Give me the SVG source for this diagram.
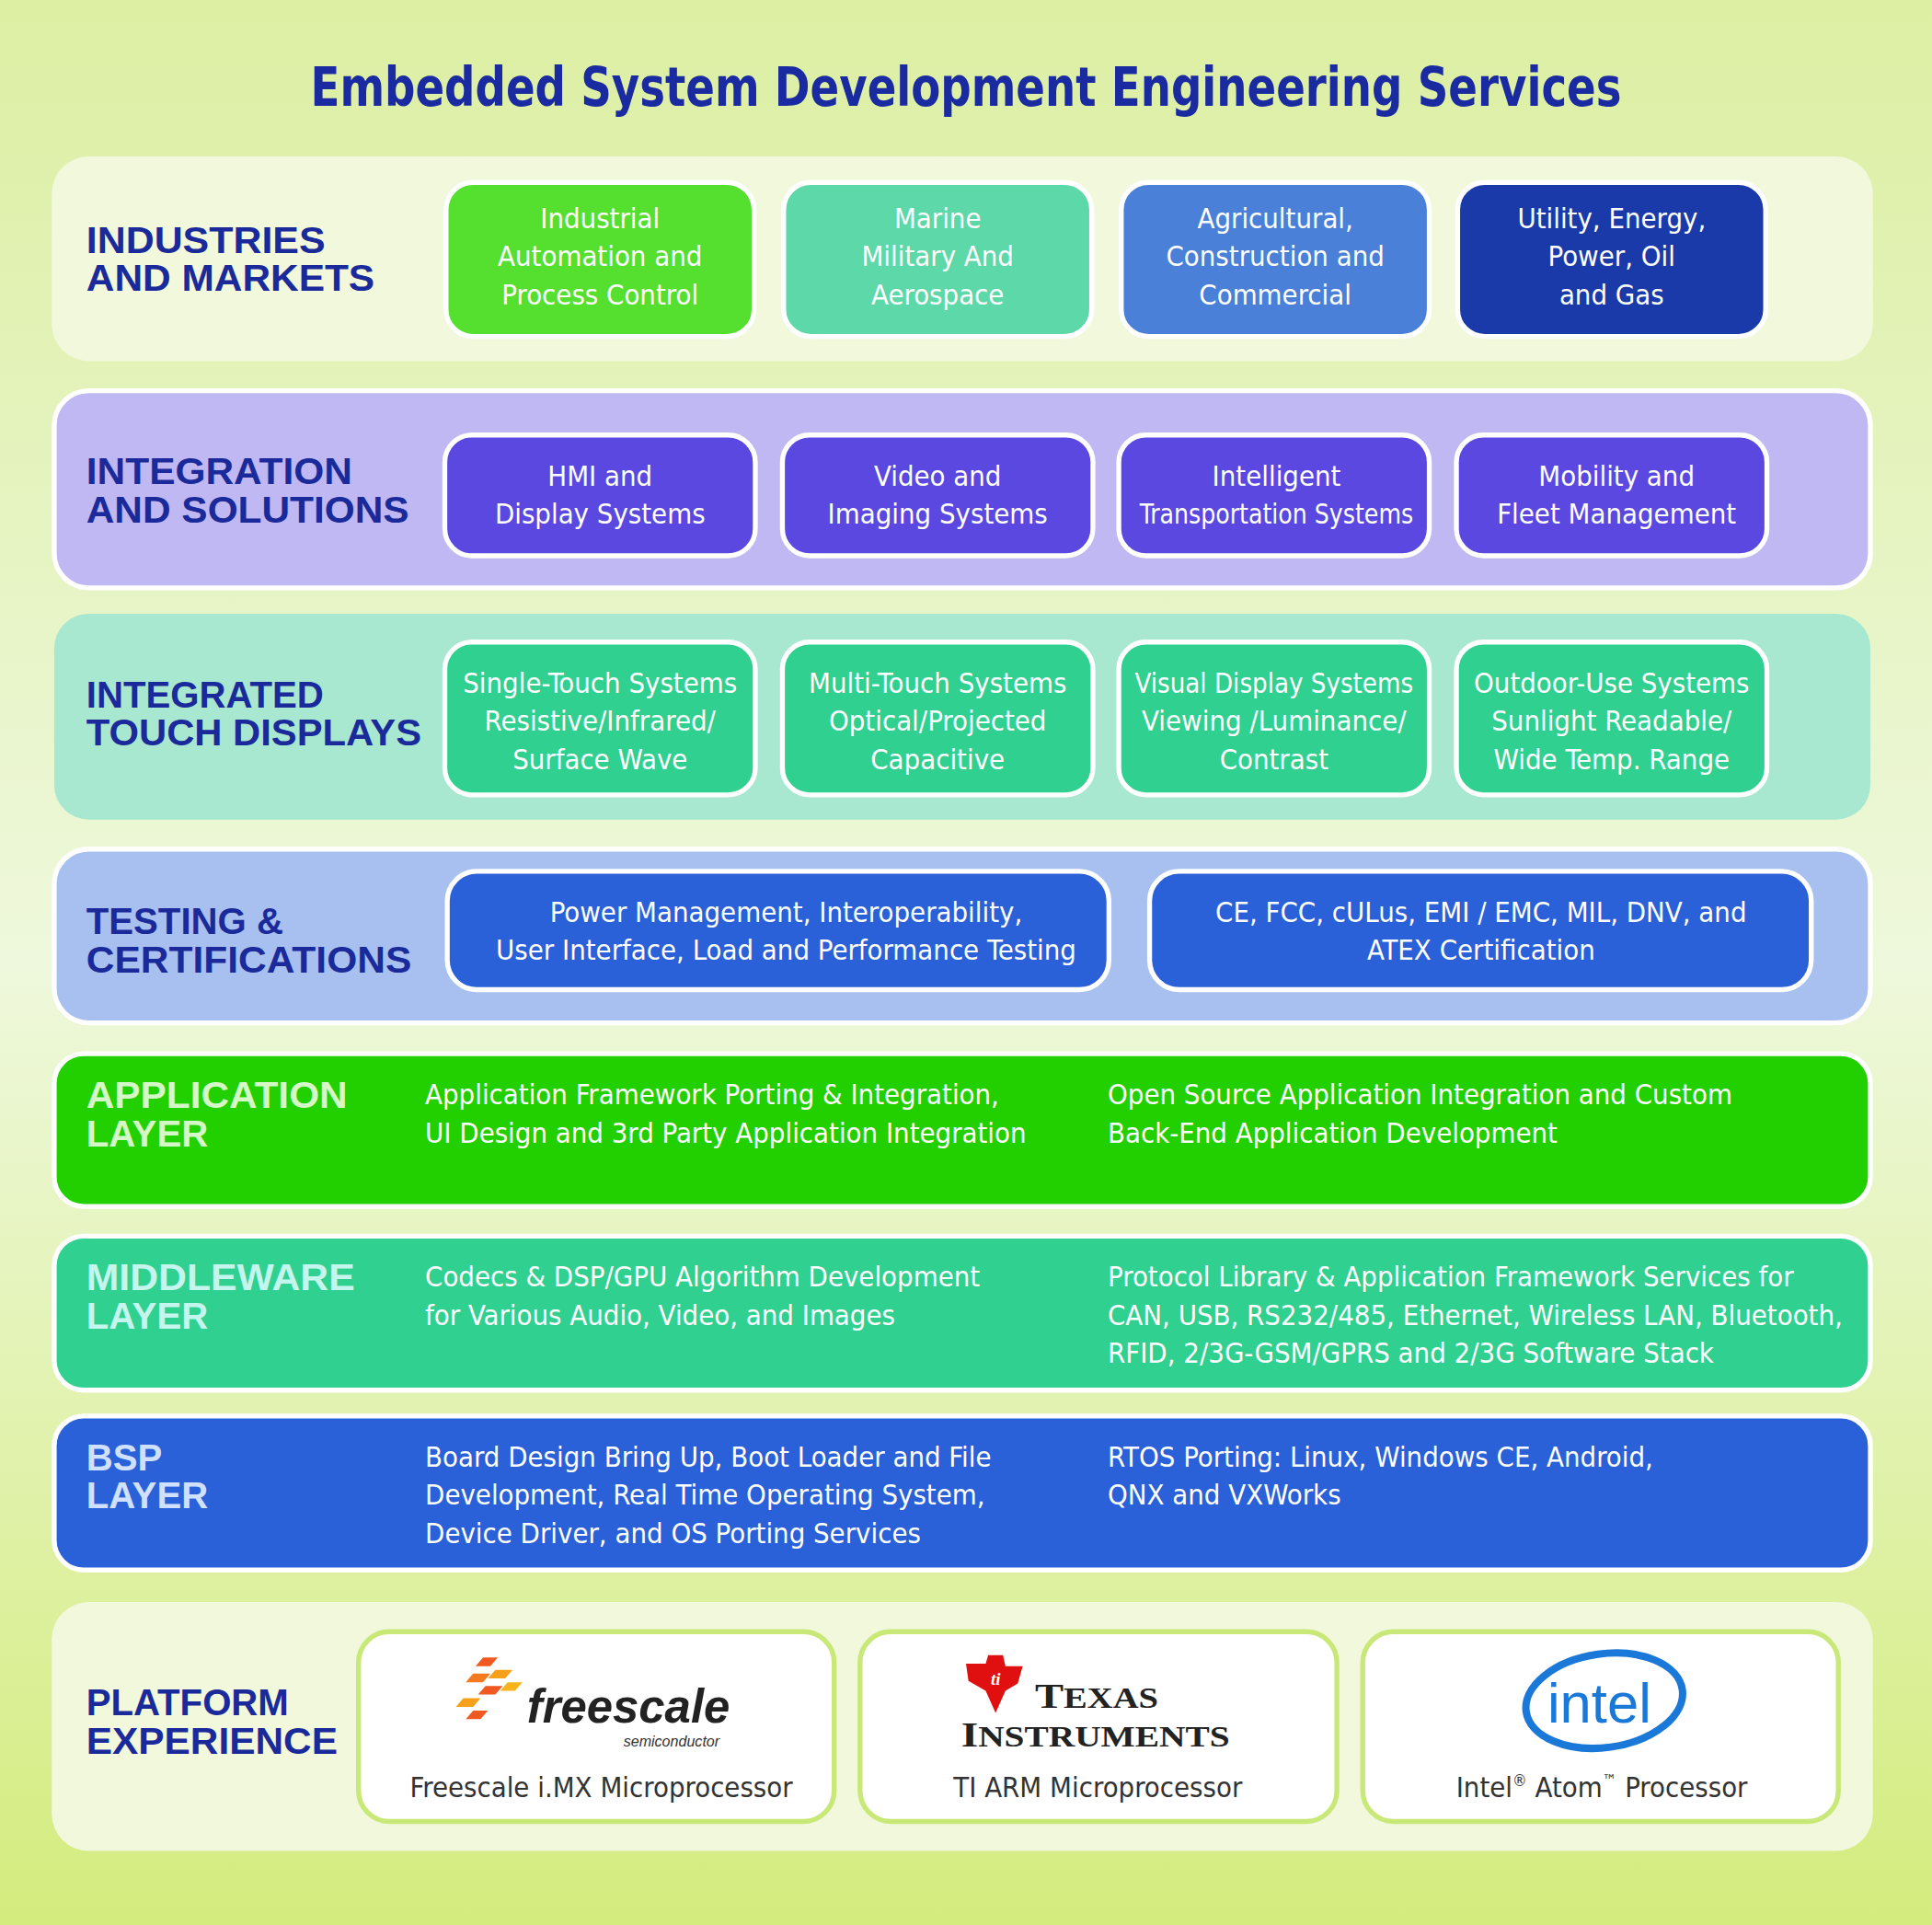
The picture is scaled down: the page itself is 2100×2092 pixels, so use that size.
<svg xmlns="http://www.w3.org/2000/svg" width="2100" height="2092" viewBox="0 0 2100 2092">
<defs>
<linearGradient id="bg" x1="0" y1="0" x2="0" y2="1">
<stop offset="0" stop-color="#dcefa2"/><stop offset="0.5" stop-color="#eef8dc"/><stop offset="1" stop-color="#d4ec7e"/>
</linearGradient>
<style>
.t{font-family:"DejaVu Sans Condensed","DejaVu Sans",sans-serif;fill:#fff;font-size:23px;text-anchor:middle}
.l{font-family:"DejaVu Sans Condensed","DejaVu Sans",sans-serif;fill:#fff;font-size:23px}
.h{font-family:"Liberation Sans",Arial,sans-serif;font-weight:bold;font-size:30px;fill:#1a2a9a}
.p{stroke:#fff;stroke-width:4}
.b{stroke:#fff;stroke-width:4}
.c{fill:#fff;stroke:#c8e878;stroke-width:4}
.cap{font-family:"DejaVu Sans Condensed","DejaVu Sans",sans-serif;fill:#333;font-size:23px;text-anchor:middle}
</style>
</defs>
<rect width="2100" height="2092" fill="url(#bg)"/>
<g transform="scale(1.33929)">
<text x="784" y="86" text-anchor="middle" font-family="DejaVu Sans Condensed,DejaVu Sans,sans-serif" font-weight="bold" font-size="44" fill="#1a2aa0" textLength="1064" lengthAdjust="spacingAndGlyphs">Embedded System Development Engineering Services</text>

<g id="industries">
<rect x="42" y="127" width="1478" height="166" rx="30" fill="#f1f8dc"/>
<text class="h"><tspan x="70" y="205" textLength="194" lengthAdjust="spacingAndGlyphs">INDUSTRIES</tspan><tspan x="70" y="236" textLength="234" lengthAdjust="spacingAndGlyphs">AND MARKETS</tspan></text>
<rect class="b" x="362" y="148" width="250" height="125" rx="22" fill="#55e030"/>
<text class="t"><tspan x="487" y="185">Industrial</tspan><tspan x="487" y="216">Automation and</tspan><tspan x="487" y="247">Process Control</tspan></text>
<rect class="b" x="636" y="148" width="250" height="125" rx="22" fill="#5dd8a8"/>
<text class="t"><tspan x="761" y="185">Marine</tspan><tspan x="761" y="216">Military And</tspan><tspan x="761" y="247">Aerospace</tspan></text>
<rect class="b" x="910" y="148" width="250" height="125" rx="22" fill="#4a80d8"/>
<text class="t"><tspan x="1035" y="185">Agricultural,</tspan><tspan x="1035" y="216">Construction and</tspan><tspan x="1035" y="247">Commercial</tspan></text>
<rect class="b" x="1183" y="148" width="250" height="125" rx="22" fill="#1a3aaa"/>
<text class="t"><tspan x="1308" y="185">Utility, Energy,</tspan><tspan x="1308" y="216">Power, Oil</tspan><tspan x="1308" y="247">and Gas</tspan></text>
</g>

<g id="integration">
<rect class="p" x="44" y="317" width="1474" height="160" rx="28" fill="#c0b8f2"/>
<text class="h"><tspan x="70" y="393" textLength="216" lengthAdjust="spacingAndGlyphs">INTEGRATION</tspan><tspan x="70" y="424" textLength="262" lengthAdjust="spacingAndGlyphs">AND SOLUTIONS</tspan></text>
<rect class="b" x="361" y="353" width="252" height="98" rx="22" fill="#5a48e0"/>
<text class="t"><tspan x="487" y="394">HMI and</tspan><tspan x="487" y="425">Display Systems</tspan></text>
<rect class="b" x="635" y="353" width="252" height="98" rx="22" fill="#5a48e0"/>
<text class="t"><tspan x="761" y="394">Video and</tspan><tspan x="761" y="425">Imaging Systems</tspan></text>
<rect class="b" x="908" y="353" width="252" height="98" rx="22" fill="#5a48e0"/>
<text class="t"><tspan x="1036" y="394">Intelligent</tspan><tspan x="1036" y="425" textLength="222" lengthAdjust="spacingAndGlyphs">Transportation Systems</tspan></text>
<rect class="b" x="1182" y="353" width="252" height="98" rx="22" fill="#5a48e0"/>
<text class="t"><tspan x="1312" y="394">Mobility and</tspan><tspan x="1312" y="425">Fleet Management</tspan></text>
</g>

<g id="touch">
<rect x="44" y="498" width="1474" height="167" rx="28" fill="#a8e8d0"/>
<text class="h"><tspan x="70" y="574">INTEGRATED</tspan><tspan x="70" y="605" textLength="272" lengthAdjust="spacingAndGlyphs">TOUCH DISPLAYS</tspan></text>
<rect class="b" x="361" y="521" width="252" height="124" rx="22" fill="#30d090"/>
<text class="t"><tspan x="487" y="562">Single-Touch Systems</tspan><tspan x="487" y="593">Resistive/Infrared/</tspan><tspan x="487" y="624">Surface Wave</tspan></text>
<rect class="b" x="635" y="521" width="252" height="124" rx="22" fill="#30d090"/>
<text class="t"><tspan x="761" y="562">Multi-Touch Systems</tspan><tspan x="761" y="593">Optical/Projected</tspan><tspan x="761" y="624">Capacitive</tspan></text>
<rect class="b" x="908" y="521" width="252" height="124" rx="22" fill="#30d090"/>
<text class="t"><tspan x="1034" y="562" textLength="226" lengthAdjust="spacingAndGlyphs">Visual Display Systems</tspan><tspan x="1034" y="593">Viewing /Luminance/</tspan><tspan x="1034" y="624">Contrast</tspan></text>
<rect class="b" x="1182" y="521" width="252" height="124" rx="22" fill="#30d090"/>
<text class="t"><tspan x="1308" y="562">Outdoor-Use Systems</tspan><tspan x="1308" y="593">Sunlight Readable/</tspan><tspan x="1308" y="624">Wide Temp. Range</tspan></text>
</g>

<g id="testing">
<rect class="p" x="44" y="689" width="1474" height="141" rx="28" fill="#a8c0f0"/>
<text class="h"><tspan x="70" y="758">TESTING &amp;</tspan><tspan x="70" y="789" textLength="264" lengthAdjust="spacingAndGlyphs">CERTIFICATIONS</tspan></text>
<rect class="b" x="363" y="707" width="537" height="96" rx="24" fill="#2a60d8"/>
<text class="t"><tspan x="638" y="748">Power Management, Interoperability,</tspan><tspan x="638" y="779">User Interface, Load and Performance Testing</tspan></text>
<rect class="b" x="933" y="707" width="537" height="96" rx="24" fill="#2a60d8"/>
<text class="t"><tspan x="1202" y="748">CE, FCC, cULus, EMI / EMC, MIL, DNV, and</tspan><tspan x="1202" y="779">ATEX Certification</tspan></text>
</g>

<g id="application">
<rect class="p" x="44" y="855" width="1474" height="124" rx="24" fill="#22d000"/>
<text class="h" style="fill:#d4f8c8"><tspan x="70" y="899" textLength="212" lengthAdjust="spacingAndGlyphs">APPLICATION</tspan><tspan x="70" y="930">LAYER</tspan></text>
<text class="l"><tspan x="345" y="896">Application Framework Porting &amp; Integration,</tspan><tspan x="345" y="927">UI Design and 3rd Party Application Integration</tspan></text>
<text class="l"><tspan x="899" y="896">Open Source Application Integration and Custom</tspan><tspan x="899" y="927">Back-End Application Development</tspan></text>
</g>

<g id="middleware">
<rect class="p" x="44" y="1003" width="1474" height="125" rx="24" fill="#30d090"/>
<text class="h" style="fill:#c4f6ee"><tspan x="70" y="1047" textLength="218" lengthAdjust="spacingAndGlyphs">MIDDLEWARE</tspan><tspan x="70" y="1078">LAYER</tspan></text>
<text class="l"><tspan x="345" y="1044">Codecs &amp; DSP/GPU Algorithm Development</tspan><tspan x="345" y="1075">for Various Audio, Video, and Images</tspan></text>
<text class="l"><tspan x="899" y="1044">Protocol Library &amp; Application Framework Services for</tspan><tspan x="899" y="1075">CAN, USB, RS232/485, Ethernet, Wireless LAN, Bluetooth,</tspan><tspan x="899" y="1106">RFID, 2/3G-GSM/GPRS and 2/3G Software Stack</tspan></text>
</g>

<g id="bsp">
<rect class="p" x="44" y="1149" width="1474" height="125" rx="24" fill="#2a60d8"/>
<text class="h" style="fill:#d0e0ff"><tspan x="70" y="1193">BSP</tspan><tspan x="70" y="1224">LAYER</tspan></text>
<text class="l"><tspan x="345" y="1190">Board Design Bring Up, Boot Loader and File</tspan><tspan x="345" y="1221">Development, Real Time Operating System,</tspan><tspan x="345" y="1252">Device Driver, and OS Porting Services</tspan></text>
<text class="l"><tspan x="899" y="1190">RTOS Porting:  Linux, Windows CE, Android,</tspan><tspan x="899" y="1221">QNX and VXWorks</tspan></text>
</g>

<g id="platform">
<rect x="42" y="1300" width="1478" height="202" rx="30" fill="#f1f8dc"/>
<text class="h"><tspan x="70" y="1392">PLATFORM</tspan><tspan x="70" y="1423" textLength="204" lengthAdjust="spacingAndGlyphs">EXPERIENCE</tspan></text>
<rect class="c" x="291" y="1324" width="386" height="154" rx="25"/>
<polygon points="392,1345 404,1345 398,1352 386,1352" fill="#f05a22"/>
<polygon points="402,1355 416,1355 410,1362 396,1362" fill="#f7a01c"/>
<polygon points="384,1358 398,1358 392,1365 378,1365" fill="#f47a20"/>
<polygon points="412,1365 424,1365 418,1372 406,1372" fill="#f7b41c"/>
<polygon points="394,1368 408,1368 402,1375 388,1375" fill="#f05a22"/>
<polygon points="376,1378 390,1378 384,1385 370,1385" fill="#f7a01c"/>
<polygon points="384,1388 396,1388 390,1395 378,1395" fill="#f05a22"/>
<text x="510" y="1398" text-anchor="middle" font-family="Liberation Sans,Arial,sans-serif" font-weight="bold" font-style="italic" font-size="38" fill="#222">freescale</text>
<text x="545" y="1417" text-anchor="middle" font-family="Liberation Sans,Arial,sans-serif" font-style="italic" font-size="12" fill="#333">semiconductor</text>
<text class="cap" x="488" y="1458">Freescale i.MX Microprocessor</text>

<rect class="c" x="698" y="1324" width="387" height="154" rx="25"/>
<polygon points="784,1350 800,1350 802,1343 814,1343 816,1352 830,1352 826,1366 816,1372 808,1390 800,1372 786,1364" fill="#e01010"/>
<text x="808" y="1367" text-anchor="middle" font-family="Liberation Serif,serif" font-weight="bold" font-style="italic" font-size="14" fill="#fff">ti</text>
<text x="840" y="1386" font-family="Liberation Serif,serif" font-weight="bold" font-size="29" fill="#222" textLength="100" lengthAdjust="spacingAndGlyphs">T<tspan font-size="24">EXAS</tspan></text>
<text x="780" y="1417" font-family="Liberation Serif,serif" font-weight="bold" font-size="29" fill="#222" textLength="218" lengthAdjust="spacingAndGlyphs">I<tspan font-size="24">NSTRUMENTS</tspan></text>
<text class="cap" x="891" y="1458">TI ARM Microprocessor</text>

<rect class="c" x="1106" y="1324" width="386" height="154" rx="25"/>
<ellipse cx="1302" cy="1380" rx="64" ry="38" fill="none" stroke="#1a78d8" stroke-width="6" transform="rotate(-8 1302 1380)"/>
<text x="1298" y="1398" text-anchor="middle" font-family="Liberation Sans,Arial,sans-serif" font-size="46" fill="#1a78d8">intel</text>
<text class="cap" x="1300" y="1458">Intel<tspan font-size="13" dy="-9">®</tspan><tspan dy="9"> Atom</tspan><tspan font-size="13" dy="-9">™</tspan><tspan dy="9"> Processor</tspan></text>
</g>
</g>
</svg>
